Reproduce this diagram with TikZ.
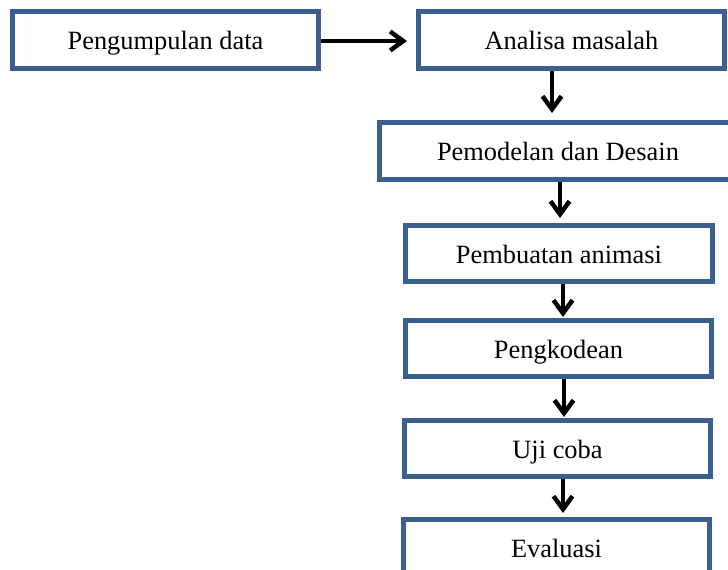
\documentclass[tikz,border=0pt]{standalone}
\usepackage{fontspec}
\setmainfont{Liberation Serif}
\usetikzlibrary{arrows.meta}
\definecolor{boxblue}{HTML}{3B5F8F}
\tikzset{
  stepbox/.style={draw=boxblue, line width=5pt, fill=white, inner sep=0pt,
    minimum height=57pt, text height=19pt, text depth=0pt,
    font=\fontsize{26.4}{30}\selectfont},
  flow/.style={line width=4.5pt, -{Straight Barb[length=13pt,width=19pt,line width=4.5pt]}}
}
\begin{document}
\begin{tikzpicture}[x=1pt,y=-1pt]
\useasboundingbox (0,0) rectangle (728,570);
\node[stepbox, minimum width=306pt] (b1) at (165.5,40) {Pengumpulan data};
\node[stepbox, minimum width=306pt] (b2) at (571.5,40) {Analisa masalah};
\node[stepbox, minimum width=357pt] (b3) at (558,151) {Pemodelan dan Desain};
\node[stepbox, minimum width=307pt, minimum height=56pt] (b4) at (559,253.5) {Pembuatan animasi};
\node[stepbox, minimum width=306pt, minimum height=56pt] (b5) at (558.5,348.5) {Pengkodean};
\node[stepbox, minimum width=306pt, minimum height=56pt] (b6) at (557.5,448.5) {Uji coba};
\node[stepbox, minimum width=306pt, minimum height=57pt] (b7) at (556.5,548) {Evaluasi};
\draw[flow, shorten >=9pt] (b1.east |- 0,41) -- (b2.west |- 0,41);
\draw[flow, shorten >=7pt] (552,0 |- b2.south) -- (552,0 |- b3.north);
\draw[flow, shorten >=5pt] (560,0 |- b3.south) -- (560,0 |- b4.north);
\draw[flow, shorten >=1pt] (563,0 |- b4.south) -- (563,0 |- b5.north);
\draw[flow, shorten >=1pt] (564,0 |- b5.south) -- (564,0 |- b6.north);
\draw[flow, shorten >=4pt] (563,0 |- b6.south) -- (563,0 |- b7.north);
\end{tikzpicture}
\end{document}
